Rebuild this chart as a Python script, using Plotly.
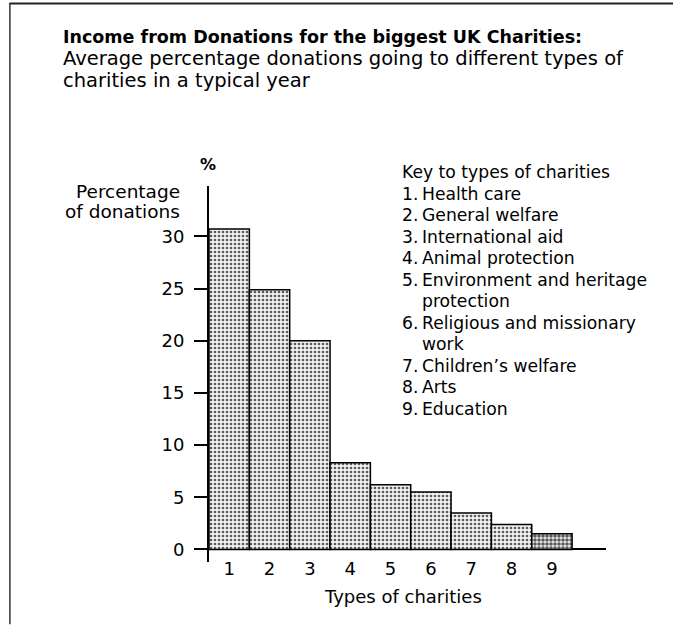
import plotly.graph_objects as go

# ---- data ----
categories = [1, 2, 3, 4, 5, 6, 7, 8, 9]
values = [30.7, 24.9, 20.0, 8.3, 6.2, 5.5, 3.5, 2.4, 1.5]
y_ticks = [0, 5, 10, 15, 20, 25, 30]
key_title = "Key to types of charities"
key_labels = [
    "Health care",
    "General welfare",
    "International aid",
    "Animal protection",
    "Environment and heritage<br>protection",
    "Religious and missionary<br>work",
    "Children\u2019s welfare",
    "Arts",
    "Education",
]
title_text = "Income from Donations for the biggest UK Charities:"
subtitle_lines = ["Average percentage donations going to different types of",
                  "charities in a typical year"]

FONT = "DejaVu Sans"
W, H = 673, 625
L, R, T, B = 209.3, 605.7, 186.0, 561.8


def px(x):
    return (x - L) / (R - L)


def py(y):
    return (B - y) / (B - T)


fig = go.Figure()
fig.add_trace(go.Bar(
    x=categories, y=values, width=1.0,
    marker=dict(
        color="white",
        line=dict(color="black", width=1.5),
        pattern=dict(shape=".", fgcolor="#5a5a5a", bgcolor="#f2f2f2",
                     size=4, solidity=[0.36] * 8 + [0.62], fillmode="replace"),
    ),
    hoverinfo="skip",
))

ann = []
# title block
ann.append(dict(text="<b>" + title_text + "</b>", x=px(62), y=py(37),
                font=dict(size=17.5, family=FONT, color="black")))
ann.append(dict(text=subtitle_lines[0], x=px(62), y=py(59),
                font=dict(size=19.5, family=FONT, color="black")))
ann.append(dict(text=subtitle_lines[1], x=px(62), y=py(80.5),
                font=dict(size=19.5, family=FONT, color="black")))

# key
kfont = dict(size=17.2, family=FONT, color="black")
ann.append(dict(text=key_title, x=px(400), y=py(172), font=kfont))
line_y = 193.5
for i, lab in enumerate(key_labels):
    parts = lab.split("<br>")
    ann.append(dict(text=f"{i + 1}.", x=px(400), y=py(line_y), font=kfont))
    for p in parts:
        ann.append(dict(text=p, x=px(419.5), y=py(line_y), font=kfont))
        line_y += 21.5

for a in ann:
    a.update(xref="paper", yref="paper", xanchor="left", yanchor="middle",
             showarrow=False)

# axis labels
ann.append(dict(text="<b>%</b>", x=px(208), y=py(165), xref="paper", yref="paper",
                xanchor="center", yanchor="middle", showarrow=False,
                font=dict(size=16, family=FONT, color="black")))
ann.append(dict(text="Percentage", x=px(182), y=py(191), xref="paper", yref="paper",
                xanchor="right", yanchor="middle", showarrow=False,
                font=dict(size=18.5, family=FONT, color="black")))
ann.append(dict(text="of donations", x=px(182), y=py(211.5), xref="paper", yref="paper",
                xanchor="right", yanchor="middle", showarrow=False,
                font=dict(size=18.5, family=FONT, color="black")))
ann.append(dict(text="Types of charities", x=px(403), y=py(596), xref="paper", yref="paper",
                xanchor="center", yanchor="middle", showarrow=False,
                font=dict(size=18, family=FONT, color="black")))

fig.update_layout(
    width=W, height=H,
    margin=dict(l=L, r=W - R, t=T, b=H - B, pad=0),
    paper_bgcolor="white", plot_bgcolor="white",
    showlegend=False,
    annotations=ann,
    font=dict(family=FONT, color="black"),
    shapes=[
        dict(type="line", xref="paper", yref="paper", x0=px(10), x1=px(673),
             y0=py(3.5), y1=py(3.5), line=dict(color="#222", width=2)),
        dict(type="line", xref="paper", yref="paper", x0=px(10.5), x1=px(10.5),
             y0=py(3), y1=py(624), line=dict(color="#333", width=1.5)),
    ],
)
fig.update_xaxes(range=[0.5, 10.34], tickvals=categories, ticks="", showline=False,
                 showgrid=False, zeroline=False, tickfont=dict(size=18, family=FONT),
                 ticklabelstandoff=-6)
fig.update_yaxes(range=[-1.2, 34.83], tickvals=y_ticks, ticks="outside", ticklen=13,
                 tickwidth=2, tickcolor="black", showline=True, linecolor="black",
                 linewidth=2, showgrid=False, zeroline=True, zerolinecolor="black",
                 zerolinewidth=2, tickfont=dict(size=18, family=FONT),
                 ticklabelstandoff=6)

fig.write_html("out.html",
               config={"displayModeBar": False},
               post_script="document.body.style.margin='0';"
                           "document.body.style.overflow='hidden';")
